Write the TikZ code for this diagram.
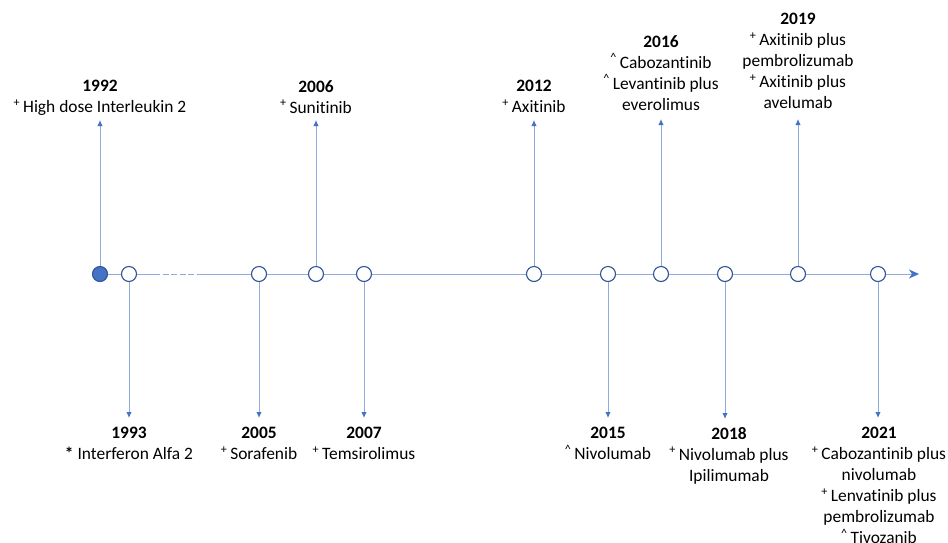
\documentclass[tikz,border=0pt]{standalone}
\usepackage{fontspec}
\setmainfont[Ligatures=NoCommon]{Carlito}
\usetikzlibrary{arrows.meta}
\definecolor{lineblue}{HTML}{8FAADC}
\definecolor{circblue}{HTML}{4472C4}
\definecolor{darkblue}{HTML}{2F5597}
\newcommand{\pl}{\textsuperscript{+}}
\newcommand{\ct}{\textsuperscript{\textasciicircum}}
\begin{document}
\begin{tikzpicture}[x=1pt,y=-1pt,
  evt/.style={circle,draw=darkblue,fill=white,line width=1.1pt,minimum size=15pt,inner sep=0pt},
  conn/.style={draw=lineblue,line width=1pt},
  varrow/.style={conn,-{Latex[length=6pt,width=5.5pt,color=circblue]}},
  lbl/.style={align=center,inner sep=0pt,anchor=north,font=\fontsize{17.4}{21}\selectfont}]
\useasboundingbox (0,0) rectangle (948,542);
% events on the axis
\node[evt,fill=circblue] (c1992) at (100,274) {};
\node[evt] (c1993) at (129,274) {};
\node[evt] (c2005) at (259,274) {};
\node[evt] (c2006) at (316,274) {};
\node[evt] (c2007) at (364,274) {};
\node[evt] (c2012) at (534,274) {};
\node[evt] (c2015) at (608,274) {};
\node[evt] (c2016) at (661,274) {};
\node[evt] (c2018) at (725,274) {};
\node[evt] (c2019) at (798,274) {};
\node[evt] (c2021) at (878,274) {};
\coordinate (dA) at (154,274);
\coordinate (dB) at (203,274);
\coordinate (axend) at (919,274);
% axis
\draw[conn] (c1992) -- (c1993) -- (dA);
\draw[conn,dash pattern=on 6pt off 2.5pt] (dA) -- (dB);
\draw[conn] (dB) -- (c2005) -- (c2006) -- (c2007) -- (c2012) -- (c2015) -- (c2016) -- (c2018) -- (c2019) -- (c2021);
\draw[conn,-{Stealth[length=10pt,width=9pt,inset=3pt,color=circblue]}] (c2021) -- (axend);
% arrow ends
\coordinate (u1992) at (100,120);
\coordinate (u2006) at (316,120);
\coordinate (u2012) at (534,120);
\coordinate (u2016) at (661,119);
\coordinate (u2019) at (798,119);
\coordinate (d1993) at (129,418);
\coordinate (d2005) at (259,418);
\coordinate (d2007) at (364,418);
\coordinate (d2015) at (608,418);
\coordinate (d2018) at (725,419);
\coordinate (d2021) at (878,418);
\foreach \n in {1992,2006,2012,2016,2019} \draw[varrow] (c\n) -- (u\n);
\foreach \n in {1993,2005,2007,2015,2018,2021} \draw[varrow] (c\n) -- (d\n);
% labels
\node[lbl] (t1992) at (100,80) {\textbf{1992}\\\pl\,High dose Interleukin 2};
\node[lbl] (t2006) at (316,80) {\textbf{2006}\\\pl\,Sunitinib};
\node[lbl] (t2012) at (534,80) {\textbf{2012}\\\pl\,Axitinib};
\node[lbl] (t2016) at (661,35) {\textbf{2016}\\\ct\,Cabozantinib\\\ct\,Levantinib plus\\everolimus};
\node[lbl] (t2019) at (798,13) {\textbf{2019}\\\pl\,Axitinib plus\\pembrolizumab\\\pl\,Axitinib plus\\avelumab};
\node[lbl] (t1993) at (129,427) {\textbf{1993}\\\textbf{*} Interferon Alfa 2};
\node[lbl] (t2005) at (259,427) {\textbf{2005}\\\pl\,Sorafenib};
\node[lbl] (t2007) at (364,427) {\textbf{2007}\\\pl\,Temsirolimus};
\node[lbl] (t2015) at (608,427) {\textbf{2015}\\\ct\,Nivolumab};
\node[lbl] (t2018) at (729,427) {\textbf{2018}\\\pl\,Nivolumab plus\\Ipilimumab};
\node[lbl] (t2021) at (879,427) {\textbf{2021}\\\pl\,Cabozantinib plus\\nivolumab\\\pl\,Lenvatinib plus\\pembrolizumab\\\ct\,Tivozanib};
\end{tikzpicture}
\end{document}
